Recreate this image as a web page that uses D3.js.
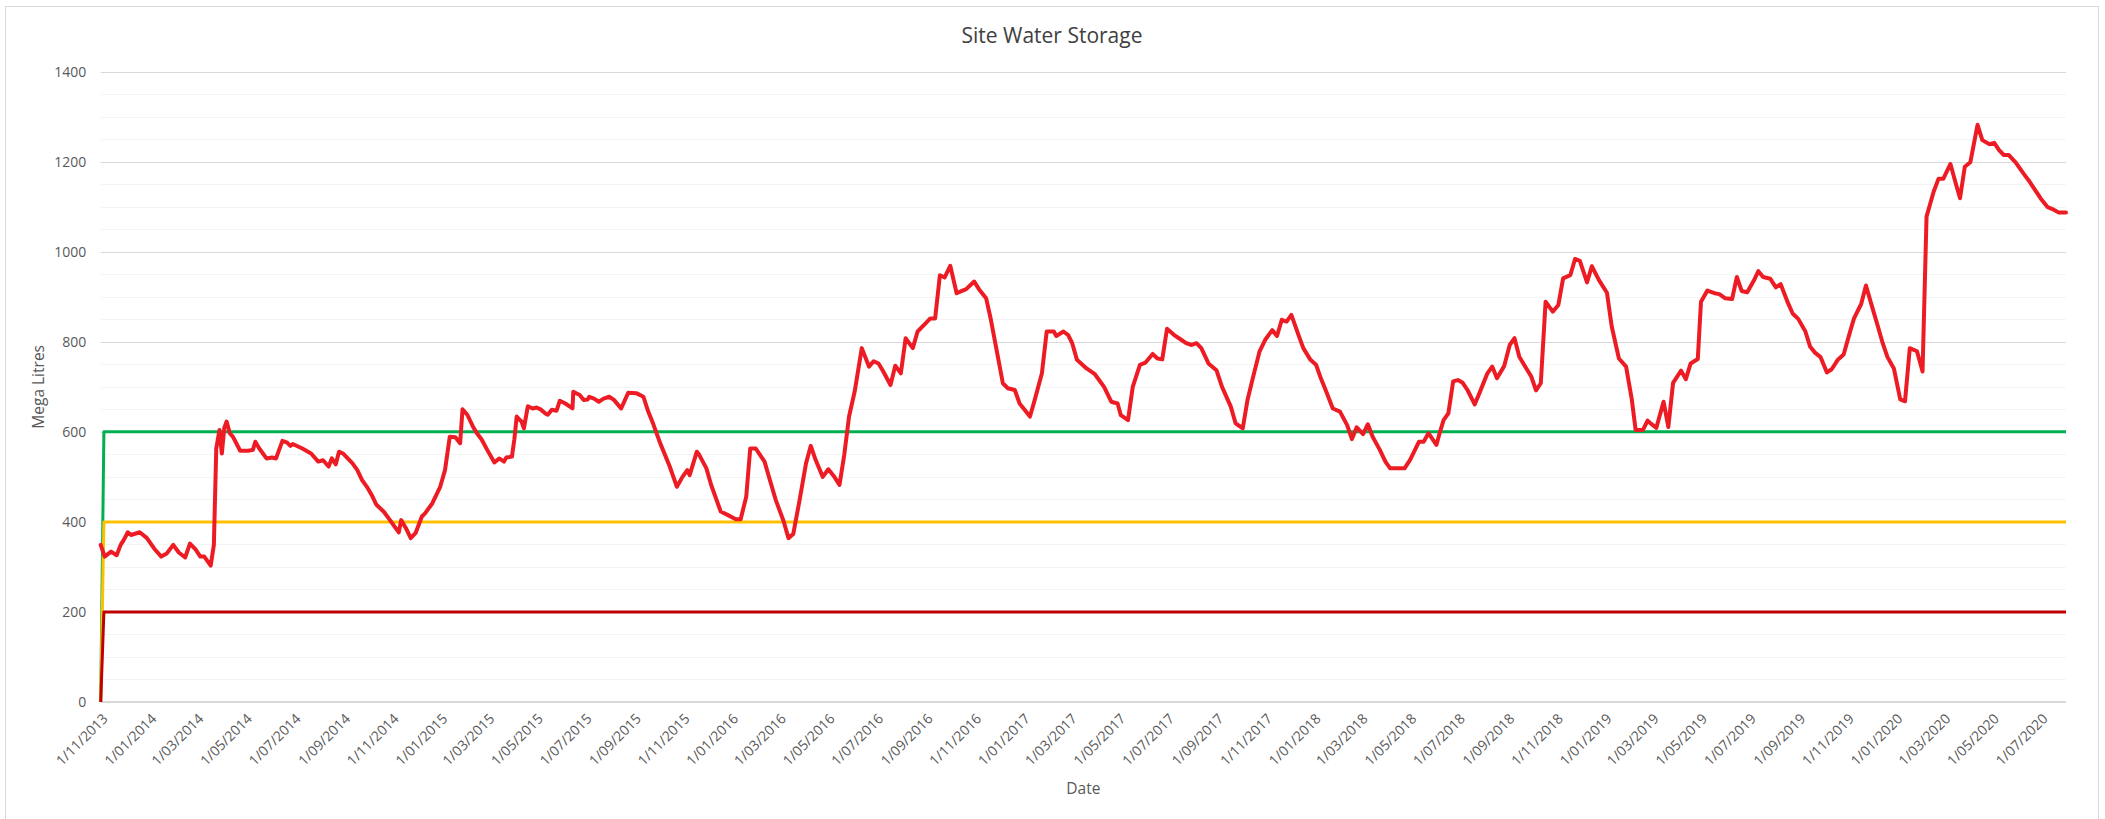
<!DOCTYPE html>
<html>
<head>
<meta charset="utf-8">
<script src="https://cdn.jsdelivr.net/npm/d3@7/dist/d3.min.js"></script>
<style>
  html, body { margin: 0; padding: 0; background: #ffffff; }
  svg { display: block; }
  text { font-family: "Open Sans", "Noto Sans", sans-serif; }
</style>
</head>
<body>
<script>
// ---------------- DATA ----------------
const chartTitle = "Site Water Storage";
const xAxisTitle = "Date";
const yAxisTitle = "Mega Litres";

const dates = [
"2013-11-01","2013-11-06","2013-11-14","2013-11-21","2013-11-26","2013-11-30","2013-12-05","2013-12-09","2013-12-20","2013-12-29",
"2014-01-07","2014-01-16","2014-01-23","2014-01-31","2014-02-07","2014-02-15","2014-02-21","2014-02-28","2014-03-06","2014-03-11",
"2014-03-19","2014-03-23","2014-03-26","2014-03-30","2014-04-02","2014-04-05","2014-04-08","2014-04-12","2014-04-16","2014-04-25",
"2014-05-05","2014-05-11","2014-05-14","2014-05-19","2014-05-28","2014-06-04","2014-06-09","2014-06-17","2014-06-23","2014-06-27",
"2014-06-30","2014-07-12","2014-07-23","2014-08-01","2014-08-07","2014-08-14","2014-08-18","2014-08-23","2014-08-27","2014-09-01",
"2014-09-13","2014-09-19","2014-09-25","2014-10-01","2014-10-07","2014-10-13","2014-10-22","2014-10-30","2014-11-05","2014-11-10",
"2014-11-13","2014-11-19","2014-11-25","2014-12-01","2014-12-09","2014-12-13","2014-12-22","2015-01-01","2015-01-07","2015-01-13",
"2015-01-20","2015-01-26","2015-01-29","2015-02-04","2015-02-11","2015-02-16","2015-02-22","2015-03-01","2015-03-10","2015-03-16",
"2015-03-22","2015-03-25","2015-04-01","2015-04-04","2015-04-07","2015-04-10","2015-04-13","2015-04-16","2015-04-21","2015-04-27",
"2015-05-02","2015-05-07","2015-05-13","2015-05-16","2015-05-21","2015-05-27","2015-05-31","2015-06-07","2015-06-16","2015-06-17",
"2015-06-25","2015-06-30","2015-07-05","2015-07-07","2015-07-13","2015-07-19","2015-07-25","2015-08-01","2015-08-07","2015-08-16",
"2015-08-25","2015-09-04","2015-09-13","2015-09-19","2015-09-25","2015-10-04","2015-10-16","2015-10-25","2015-11-01","2015-11-07",
"2015-11-10","2015-11-19","2015-11-22","2015-12-01","2015-12-07","2015-12-19","2015-12-28","2016-01-07","2016-01-13","2016-01-20",
"2016-01-25","2016-02-01","2016-02-12","2016-02-18","2016-02-26","2016-03-07","2016-03-13","2016-03-19","2016-03-27","2016-04-04",
"2016-04-10","2016-04-16","2016-04-25","2016-05-02","2016-05-10","2016-05-16","2016-05-22","2016-05-28","2016-06-04","2016-06-13",
"2016-06-22","2016-06-28","2016-07-04","2016-07-10","2016-07-19","2016-07-25","2016-08-01","2016-08-07","2016-08-16","2016-08-22",
"2016-09-01","2016-09-07","2016-09-13","2016-09-19","2016-09-25","2016-10-02","2016-10-10","2016-10-22","2016-11-01","2016-11-07",
"2016-11-16","2016-11-22","2016-11-30","2016-12-07","2016-12-13","2016-12-22","2016-12-28","2017-01-10","2017-01-16","2017-01-25",
"2017-01-31","2017-02-09","2017-02-12","2017-02-21","2017-02-27","2017-03-04","2017-03-10","2017-03-22","2017-04-01","2017-04-13",
"2017-04-22","2017-04-30","2017-05-04","2017-05-13","2017-05-19","2017-05-28","2017-06-04","2017-06-13","2017-06-19","2017-06-25",
"2017-07-01","2017-07-10","2017-07-16","2017-07-25","2017-08-01","2017-08-07","2017-08-13","2017-08-22","2017-09-01","2017-09-08",
"2017-09-19","2017-09-25","2017-10-04","2017-10-10","2017-10-16","2017-10-25","2017-11-01","2017-11-10","2017-11-16","2017-11-22",
"2017-11-28","2017-12-04","2017-12-13","2017-12-19","2017-12-28","2018-01-04","2018-01-10","2018-01-16","2018-01-25","2018-02-03",
"2018-02-12","2018-02-18","2018-02-24","2018-03-04","2018-03-10","2018-03-16","2018-03-25","2018-04-01","2018-04-07","2018-04-19",
"2018-04-25","2018-05-02","2018-05-13","2018-05-19","2018-05-25","2018-06-04","2018-06-08","2018-06-13","2018-06-19","2018-06-25",
"2018-07-01","2018-07-07","2018-07-13","2018-07-22","2018-07-28","2018-08-07","2018-08-13","2018-08-19","2018-08-28","2018-09-04",
"2018-09-10","2018-09-16","2018-09-22","2018-10-01","2018-10-07","2018-10-13","2018-10-19","2018-10-28","2018-11-04","2018-11-10",
"2018-11-19","2018-11-25","2018-12-01","2018-12-10","2018-12-16","2018-12-25","2019-01-04","2019-01-10","2019-01-19","2019-01-28",
"2019-02-04","2019-02-09","2019-02-18","2019-02-24","2019-03-01","2019-03-07","2019-03-16","2019-03-22","2019-03-28","2019-04-07",
"2019-04-13","2019-04-19","2019-04-28","2019-05-02","2019-05-10","2019-05-19","2019-05-25","2019-06-01","2019-06-10","2019-06-16",
"2019-06-22","2019-06-29","2019-07-07","2019-07-13","2019-07-19","2019-07-28","2019-08-04","2019-08-10","2019-08-19","2019-08-25",
"2019-09-01","2019-09-10","2019-09-16","2019-09-22","2019-09-29","2019-10-07","2019-10-13","2019-10-21","2019-10-28","2019-11-04",
"2019-11-10","2019-11-19","2019-11-25","2019-12-02","2019-12-10","2019-12-16","2019-12-22","2019-12-30","2020-01-07","2020-01-13",
"2020-01-19","2020-01-28","2020-02-04","2020-02-09","2020-02-18","2020-02-24","2020-03-01","2020-03-10","2020-03-16","2020-03-22",
"2020-03-28","2020-04-04","2020-04-13","2020-04-19","2020-04-28","2020-05-04","2020-05-10","2020-05-16","2020-05-22","2020-05-31",
"2020-06-10","2020-06-16","2020-06-22","2020-07-01","2020-07-10","2020-07-16","2020-07-24","2020-08-02"
];

const storage = [
349,323,334,326,349,360,377,371,377,364,
341,323,330,349,332,321,352,339,323,323,
303,349,563,604,552,608,623,597,589,558,
558,560,578,563,541,543,541,580,576,569,
573,563,552,534,537,523,541,528,556,552,
530,515,493,478,460,438,423,404,389,377,
404,386,364,375,412,419,441,478,515,589,
588,575,650,638,612,597,583,560,532,541,
534,543,545,583,634,628,623,608,657,652,
654,650,641,638,649,647,669,663,652,689,
682,671,672,678,674,667,674,678,671,652,
687,686,678,645,619,575,523,478,500,515,
504,556,549,519,482,423,415,406,406,456,
563,563,534,497,449,401,364,373,449,530,
569,538,500,517,499,482,549,634,689,786,
745,757,752,734,704,747,730,808,786,823,
841,852,852,948,943,969,908,917,934,917,
897,849,774,708,697,693,663,634,671,730,
823,823,813,823,815,797,760,741,729,700,
667,663,637,626,700,749,754,773,763,761,
829,815,808,797,793,797,786,752,737,700,
656,619,608,671,715,778,804,826,813,849,
845,860,815,786,760,749,719,693,652,645,
615,584,610,595,617,589,560,534,519,519,
519,538,578,578,597,571,597,626,641,712,
715,709,693,661,686,730,745,719,746,793,
808,767,749,723,692,708,889,867,882,941,
948,984,980,932,968,937,909,834,763,745,
674,604,604,625,617,609,667,611,709,736,
717,752,762,889,914,908,906,897,895,944,
913,910,935,957,944,940,921,928,887,863,
851,823,789,776,766,732,739,761,772,816,
852,884,925,882,834,797,766,741,672,668,
786,779,734,1078,1134,1162,1162,1195,1156,1119,
1189,1199,1282,1248,1239,1242,1226,1215,1215,1198,
1173,1159,1143,1119,1099,1095,1087,1087
];

// Threshold series (start at 0 on first date, then flat level)
const thresholdDates = ["2013-11-01", "2013-11-05", "2020-08-02"];
const greenLevel = [0, 600, 600];
const amberLevel = [0, 400, 400];
const redLevel   = [0, 200, 200];

const xTickLabels = [
"1/11/2013","1/01/2014","1/03/2014","1/05/2014","1/07/2014","1/09/2014",
"1/11/2014","1/01/2015","1/03/2015","1/05/2015","1/07/2015","1/09/2015",
"1/11/2015","1/01/2016","1/03/2016","1/05/2016","1/07/2016","1/09/2016",
"1/11/2016","1/01/2017","1/03/2017","1/05/2017","1/07/2017","1/09/2017",
"1/11/2017","1/01/2018","1/03/2018","1/05/2018","1/07/2018","1/09/2018",
"1/11/2018","1/01/2019","1/03/2019","1/05/2019","1/07/2019","1/09/2019",
"1/11/2019","1/01/2020","1/03/2020","1/05/2020","1/07/2020"
];
const yTicks = [0, 200, 400, 600, 800, 1000, 1200, 1400];
const yMinorTicks = [50,100,150,250,300,350,450,500,550,650,700,750,850,900,950,1050,1100,1150,1250,1300,1350];

// ---------------- CHART ----------------
const W = 2105, H = 819;
const plot = { left: 100.7, right: 2066, top: 71.7, bottom: 702 };

const parseISO = d3.timeParse("%Y-%m-%d");
const parseTick = d3.timeParse("%d/%m/%Y");

const series = dates.map((d, i) => ({ date: parseISO(d), value: storage[i] }));
const tDates = thresholdDates.map(parseISO);
const thresholds = [
  { values: greenLevel, color: "#00B050" },
  { values: amberLevel, color: "#FFC000" },
  { values: redLevel,   color: "#C00000" }
];

const x = d3.scaleTime()
  .domain([parseISO(dates[0]), parseISO(dates[dates.length - 1])])
  .range([plot.left, plot.right]);
const y = d3.scaleLinear().domain([0, 1400]).range([plot.bottom, plot.top]);

const svg = d3.select("body").append("svg")
  .attr("width", W).attr("height", H);

svg.append("rect").attr("x", 0).attr("y", 0).attr("width", W).attr("height", H).attr("fill", "#fff");

// chart border
svg.append("rect")
  .attr("x", 5.5).attr("y", 6.5).attr("width", 2093).attr("height", 830)
  .attr("fill", "none").attr("stroke", "#d9d9d9").attr("stroke-width", 1);

// title
svg.append("text")
  .attr("x", 1052).attr("y", 43)
  .attr("text-anchor", "middle")
  .attr("font-size", 21).attr("fill", "#404040")
  .text(chartTitle);

// minor gridlines
svg.append("g").selectAll("line").data(yMinorTicks).join("line")
  .attr("x1", plot.left).attr("x2", plot.right)
  .attr("y1", d => Math.round(y(d)) + 0.5).attr("y2", d => Math.round(y(d)) + 0.5)
  .attr("stroke", "#f4f4f4").attr("stroke-width", 1);

// major gridlines
svg.append("g").selectAll("line").data(yTicks.filter(d => d > 0)).join("line")
  .attr("x1", plot.left).attr("x2", plot.right)
  .attr("y1", d => Math.round(y(d)) + 0.5).attr("y2", d => Math.round(y(d)) + 0.5)
  .attr("stroke", "#d9d9d9").attr("stroke-width", 1);

// y axis (labels only)
const yAxis = svg.append("g")
  .attr("transform", `translate(${plot.left},0)`)
  .call(d3.axisLeft(y).tickValues(yTicks).tickSize(0).tickPadding(14.5).tickFormat(d3.format("d")));
yAxis.select(".domain").remove();
yAxis.selectAll("text")
  .attr("font-family", "'Open Sans', sans-serif")
  .attr("font-size", 14).attr("fill", "#595959");

// x axis
const tickDates = xTickLabels.map(parseTick);
const xAxis = svg.append("g")
  .attr("transform", `translate(0,${plot.bottom})`)
  .call(d3.axisBottom(x).tickValues(tickDates).tickSize(0)
    .tickFormat((d, i) => xTickLabels[i]));
xAxis.select(".domain").remove();
xAxis.selectAll("text")
  .attr("font-family", "'Open Sans', sans-serif")
  .attr("font-size", 14).attr("fill", "#595959")
  .attr("text-anchor", "end")
  .attr("dy", "0.35em")
  .attr("transform", "translate(2,12) rotate(-45)");

// x axis baseline
svg.append("line")
  .attr("x1", plot.left).attr("x2", plot.right)
  .attr("y1", y(0)).attr("y2", y(0))
  .attr("stroke", "#d9d9d9").attr("stroke-width", 2);

// axis titles
svg.append("text")
  .attr("transform", `translate(39,${(plot.top + plot.bottom) / 2}) rotate(-90)`)
  .attr("text-anchor", "middle").attr("dy", "0.35em")
  .attr("font-size", 15.5).attr("fill", "#595959")
  .text(yAxisTitle);

svg.append("text")
  .attr("x", (plot.left + plot.right) / 2).attr("y", 789)
  .attr("text-anchor", "middle").attr("dy", "0.35em")
  .attr("font-size", 15.5).attr("fill", "#595959")
  .text(xAxisTitle);

// threshold lines
const tLine = d3.line().x((d, i) => x(tDates[i])).y(d => y(d));
svg.append("g").selectAll("path").data(thresholds).join("path")
  .attr("d", d => tLine(d.values))
  .attr("fill", "none")
  .attr("stroke", d => d.color)
  .attr("stroke-width", 3)
  .attr("stroke-linejoin", "round");

// storage line
const line = d3.line().x(d => x(d.date)).y(d => y(d.value));
svg.append("path")
  .datum(series)
  .attr("d", line)
  .attr("fill", "none")
  .attr("stroke", "#ED1C24")
  .attr("stroke-width", 4)
  .attr("stroke-linejoin", "round")
  .attr("stroke-linecap", "round");
</script>
</body>
</html>
